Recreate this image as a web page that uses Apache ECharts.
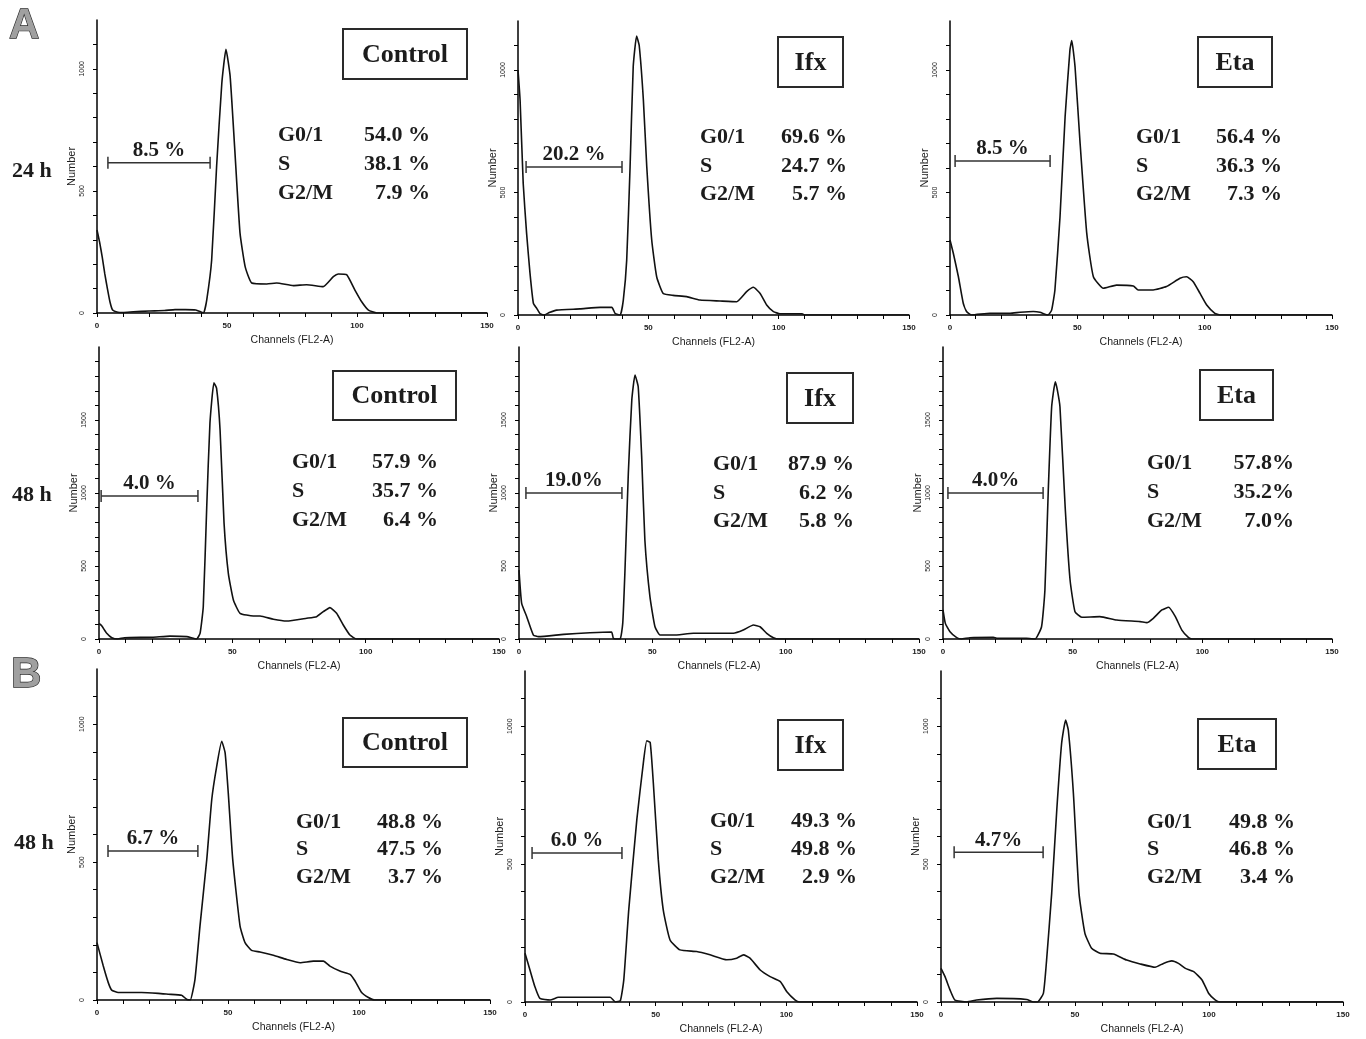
<!DOCTYPE html>
<html><head><meta charset="utf-8">
<script src="https://cdn.jsdelivr.net/npm/echarts@6/dist/echarts.min.js"></script>
<style>html,body{margin:0;padding:0;background:#fff}#c{width:1366px;height:1039px}</style>
</head><body><div id="c"></div>
<script>
// ---------- DATA ----------
const treatments = ['Control', 'Ifx', 'Eta'];
const rowLabels = ['24 h', '48 h', '48 h'];
const sectionLetters = ['A', 'B'];
const phaseLabels = ['G0/1', 'S', 'G2/M'];
const xAxisTitle = 'Channels (FL2-A)';
const yAxisTitle = 'Number';
const xLabelStep = 50;
const yLabelStep = 500;
const yMaxByRow = [1200, 2000, 1200];

// histograms: [channel, number]
const ctl24 = [[0,340],[1,290],[2,230],[3,160],[4,100],[5,45],[6,12],[8,3],[10,2],[14,5],[20,8],[26,10],[30,14],[34,14],[38,12],[40,4],[41,0],[42.2,53],[44.1,217],[46,600],[48,940],[49.6,1080],[51.2,970],[53,668],[55,328],[57,189],[59.5,123],[65.3,119],[69.1,123],[75.5,112],[80.6,116],[87,108],[90.9,149],[92.8,160],[96,157],[99.2,94],[101.8,46],[104.4,12],[107.6,0],[150,0]];
const ifx24 = [[0,1000],[0.8,877],[2,537],[3.3,333],[4.6,171],[5.9,48],[7.2,27],[8.4,6],[10,0],[12,10],[14.8,20],[23.8,25],[31.5,31],[36,31],[37.3,6],[39.2,0],[40.4,61],[41.7,224],[43,605],[44.2,1013],[45.5,1139],[46.5,1100],[48.1,877],[49.4,605],[51.3,306],[53.2,156],[55.7,88],[59.5,80],[64.7,75],[69.8,61],[77.5,57],[83.9,54],[87.7,95],[90.3,113],[92.9,88],[95.4,41],[98,14],[100.5,5],[109,5],[110,0],[150,0]];
const eta24 = [[0,306],[1.3,252],[3.3,156],[5.2,48],[6.5,14],[8.5,0],[15.7,7],[23.6,7],[27.5,11],[32.7,14],[35.3,11],[38.5,0],[39.9,20],[41.2,102],[43.2,401],[45.2,809],[47.1,1082],[47.8,1120],[49.1,1013],[51,714],[53.7,333],[56.3,156],[60.2,109],[65.4,122],[72,118],[73.9,102],[79.8,102],[85,116],[90.3,150],[92.9,156],[95.5,136],[98.2,88],[100.8,41],[104,7],[106,0],[150,0]];
const ctl48a = [[0,107],[1,91],[2.9,39],[4.8,9],[7,0],[9.5,9],[20,12],[26.6,20],[32.9,16],[36.6,0],[37.9,39],[39.1,221],[40.4,906],[41.6,1477],[43.1,1755],[44.1,1717],[45.4,1432],[46.9,792],[48.5,450],[50.4,267],[52.9,176],[57.9,158],[60.4,158],[65.4,135],[70.4,123],[77.9,142],[81.6,153],[84.1,187],[86.6,215],[89.1,176],[91.6,96],[94.1,27],[96.6,0],[150,0]];
const ifx48a = [[0,472],[1,244],[2.9,153],[5.4,27],[7.3,16],[16.7,32],[26.6,43],[34.7,48],[35.4,5],[37.9,0],[38.9,107],[39.7,450],[41,1135],[42.3,1637],[43.5,1808],[44.7,1728],[46,1249],[47.2,678],[49.1,290],[51,84],[52.9,27],[57.9,27],[65.4,39],[75.4,39],[80.4,39],[84.1,61],[87.9,96],[90.4,84],[92.9,39],[95.4,9],[97.5,0],[150,0]];
const eta48a = [[0,199],[0.9,107],[2.7,50],[5.3,9],[7,0],[10.4,9],[19.4,11],[20.7,5],[32.2,5],[35.5,0],[38,84],[39.3,336],[40.6,1021],[41.9,1591],[43.3,1762],[44.1,1705],[45.1,1591],[47.1,906],[49,404],[50.9,187],[53.5,149],[60.5,153],[67,130],[76,119],[78.6,112],[81.1,142],[84.4,199],[87,217],[89.6,153],[92.1,61],[94.7,9],[96,0],[150,0]];
const ctl48b = [[0,208],[2.4,123],[4.3,63],[5.6,36],[8.1,27],[17,27],[23.4,24],[27.2,21],[32.3,17],[34.3,2],[35.6,0],[37.4,75],[39.3,268],[41.9,510],[43.8,727],[45.7,848],[47.6,938],[48.9,896],[50.1,751],[51.8,510],[54.6,268],[56.5,208],[59,180],[62.2,174],[67.3,162],[72.4,147],[77.5,135],[82.6,141],[86.4,141],[88.9,123],[92.7,105],[96.6,93],[98.5,69],[101,27],[103.6,9],[106,0],[150,0]];
const ifx48b = [[0,177],[1.9,116],[3.8,55],[5.7,13],[9.6,7],[12.8,17],[21.1,17],[32.6,17],[34.6,0],[36.5,5],[37.8,80],[39.7,334],[42.8,662],[45.3,868],[46.6,947],[47.9,941],[49.1,795],[51,516],[52.9,334],[55.5,225],[59.3,189],[65.7,183],[70.8,171],[77.2,153],[81,159],[83.6,171],[86.1,159],[90,116],[93.8,92],[97.7,74],[100.2,37],[103.4,7],[105,0],[150,0]];
const eta48b = [[0,122],[1.5,92],[3.4,43],[5.2,7],[9.6,0],[13.3,7],[20.8,13],[32,9],[34.5,0],[36,0],[38.2,31],[39.4,152],[41.3,394],[43.2,696],[45,937],[46.5,1022],[47.5,986],[49.4,757],[51.5,394],[53.7,249],[56.2,195],[59.3,177],[64.3,174],[69.3,152],[74.3,138],[79.9,126],[83,140],[86.1,149],[88.6,140],[91.2,122],[94.3,110],[97.4,80],[99.9,31],[102.4,7],[104,0],[150,0]];

// cell-cycle percentages per panel (G0/1, S, G2/M)
const phaseValues = [
  ['54.0 %', '38.1 %', '7.9 %'],
  ['69.6 %', '24.7 %', '5.7 %'],
  ['56.4 %', '36.3 %', '7.3 %'],
  ['57.9 %', '35.7 %', '6.4 %'],
  ['87.9 %', '6.2 %', '5.8 %'],
  ['57.8%', '35.2%', '7.0%'],
  ['48.8 %', '47.5 %', '3.7 %'],
  ['49.3 %', '49.8 %', '2.9 %'],
  ['49.8 %', '46.8 %', '3.4 %']
];
// sub-G1 gate: [start channel, end channel, level] and its label
const subG1Gates = [[4.2,43.5,615],[3.1,39.9,604],[2.0,39.3,629],[0.8,37.1,979],[2.6,38.6,1000],[1.9,38.6,1000],[4.2,38.5,540],[2.7,37.1,540],[4.9,38.1,543]];
const subG1Labels = ['8.5 %', '20.2 %', '8.5 %', '4.0 %', '19.0%', '4.0%', '6.7 %', '6.0 %', '4.7%'];

const histograms = [ctl24, ifx24, eta24, ctl48a, ifx48a, eta48a, ctl48b, ifx48b, eta48b];

// ---------- LAYOUT (pixels) ----------
const gridRects = [
  [97,20,390,293],[518,21,391,294],[950,21,382,294],
  [99,347,400,292],[519,347,400,292],[943,347,389,292],
  [97,669,393,331],[525,671,392,331],[941,671,402,331]
];
const boxRects = [
  [343,29,124,50],[778,37,65,50],[1198,37,74,50],
  [333,371,123,49],[787,373,66,50],[1200,370,73,50],
  [343,718,124,49],[778,720,65,50],[1198,719,78,50]
];
const statPos = [
  [278,[135,164,193],430],[700,[137,166,194],847],[1136,[137,166,194],1282],
  [292,[462,491,520],438],[713,[464,493,521],854],[1147,[463,492,521],1294],
  [296,[822,849,877],443],[710,[821,849,877],857],[1147,[822,849,877],1295]
];
const rowLabelPos = [[12,171],[12,495],[14,843]];
const letterPos = [[9,26],[11,675]];

const SERIF = '"Liberation Serif","Times New Roman",serif';
const SANS = '"Liberation Sans",Arial,sans-serif';
const INK = '#1c1c1c';

const grids = [], xAxes = [], yAxes = [], series = [], graphics = [];
for (let i = 0; i < 9; i++) {
  const [l, t, w, h] = gridRects[i];
  const row = Math.floor(i / 3);
  grids.push({ left: l, top: t, width: w, height: h, containLabel: false });
  xAxes.push({
    type: 'value', gridIndex: i, min: 0, max: 150, interval: 10,
    name: xAxisTitle, nameLocation: 'middle', nameGap: 22,
    nameTextStyle: { fontFamily: SANS, fontSize: 10.5, color: INK },
    axisLine: { show: true, onZero: false, lineStyle: { color: '#000', width: 1.5 } },
    axisTick: { show: true, inside: false, length: 4, lineStyle: { color: '#000', width: 1 } },
    axisLabel: { margin: 9, fontFamily: SANS, fontSize: 8, fontWeight: 'bold', color: INK,
      formatter: v => (v % xLabelStep === 0 ? String(v) : '') },
    splitLine: { show: false }
  });
  yAxes.push({
    type: 'value', gridIndex: i, min: 0, max: yMaxByRow[row], interval: 100,
    name: yAxisTitle, nameLocation: 'middle', nameGap: 20,
    nameTextStyle: { fontFamily: SANS, fontSize: 11, color: INK },
    axisLine: { show: true, onZero: false, lineStyle: { color: '#000', width: 1.5 } },
    axisTick: { show: true, inside: false, length: 4, lineStyle: { color: '#000', width: 1 } },
    axisLabel: { rotate: 90, margin: 11, fontFamily: SANS, fontSize: 7, color: INK, showMaxLabel: false,
      formatter: v => (v % yLabelStep === 0 && v < yMaxByRow[row] ? String(v) : '') },
    splitLine: { show: false }
  });
  series.push({
    type: 'line', xAxisIndex: i, yAxisIndex: i, data: histograms[i],
    showSymbol: false, symbol: 'none', smooth: 0.15, silent: true,
    lineStyle: { color: '#111', width: 1.6 }, z: 3
  });
  const lbl = subG1Labels[i];
  series.push({
    type: 'custom', xAxisIndex: i, yAxisIndex: i, silent: true, z: 4,
    data: [subG1Gates[i]], encode: { x: [0, 1], y: 2 },
    renderItem: (params, api) => {
      const p1 = api.coord([api.value(0), api.value(2)]);
      const p2 = api.coord([api.value(1), api.value(2)]);
      const ls = { stroke: '#333', lineWidth: 1.5 };
      return { type: 'group', children: [
        { type: 'line', shape: { x1: p1[0], y1: p1[1], x2: p2[0], y2: p2[1] }, style: ls },
        { type: 'line', shape: { x1: p1[0], y1: p1[1] - 6, x2: p1[0], y2: p1[1] + 6 }, style: ls },
        { type: 'line', shape: { x1: p2[0], y1: p2[1] - 6, x2: p2[0], y2: p2[1] + 6 }, style: ls },
        { type: 'text', x: (p1[0] + p2[0]) / 2, y: p1[1] - 12,
          style: { text: lbl, font: 'bold 21px ' + SERIF, fill: INK,
            textAlign: 'center', textVerticalAlign: 'middle', align: 'center', verticalAlign: 'middle' } }
      ]};
    }
  });
  // treatment box
  const [bx, by, bw, bh] = boxRects[i];
  graphics.push({ type: 'rect', shape: { x: bx, y: by, width: bw, height: bh },
    style: { fill: '#fff', stroke: '#2a2a2a', lineWidth: 2 }, z: 10 });
  graphics.push({ type: 'text', x: bx + bw / 2, y: by + bh / 2 + 1, z: 11,
    style: { text: treatments[i % 3], font: 'bold 26px ' + SERIF, fill: INK,
      textAlign: 'center', textVerticalAlign: 'middle' } });
  // phase stats
  const [sx, sys, vx] = statPos[i];
  for (let k = 0; k < 3; k++) {
    graphics.push({ type: 'text', x: sx, y: sys[k], z: 11,
      style: { text: phaseLabels[k], font: 'bold 22px ' + SERIF, fill: INK, textAlign: 'left', textVerticalAlign: 'middle' } });
    graphics.push({ type: 'text', x: vx, y: sys[k], z: 11,
      style: { text: phaseValues[i][k], font: 'bold 22px ' + SERIF, fill: INK, textAlign: 'right', textVerticalAlign: 'middle' } });
  }
}
for (let r = 0; r < 3; r++) {
  graphics.push({ type: 'text', x: rowLabelPos[r][0], y: rowLabelPos[r][1], z: 11,
    style: { text: rowLabels[r], font: 'bold 22px ' + SERIF, fill: INK, textAlign: 'left', textVerticalAlign: 'middle' } });
}
for (let s = 0; s < 2; s++) {
  graphics.push({ type: 'text', x: letterPos[s][0], y: letterPos[s][1], z: 11,
    style: { text: sectionLetters[s], font: 'bold 42px ' + SANS, fill: '#a0a0a0', stroke: '#2a2a2a', lineWidth: 1.3,
      textAlign: 'left', textVerticalAlign: 'middle' } });
}

const chart = echarts.init(document.getElementById('c'), null, { renderer: 'canvas' });
chart.setOption({
  animation: false,
  backgroundColor: '#fff',
  grid: grids, xAxis: xAxes, yAxis: yAxes, series: series, graphic: graphics
});
</script></body></html>
